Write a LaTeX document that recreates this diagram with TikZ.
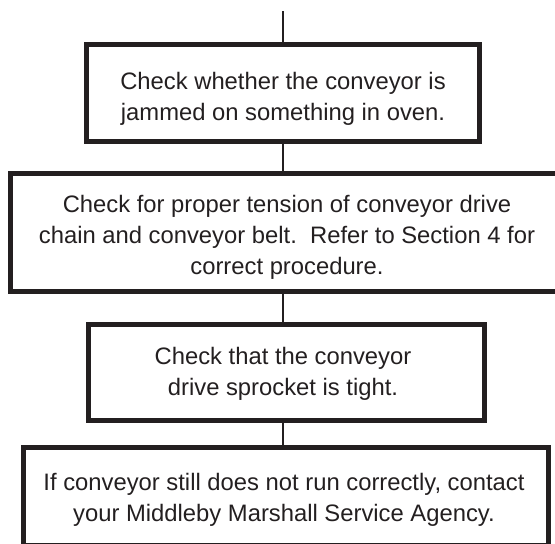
\documentclass[tikz,border=0pt]{standalone}
\usepackage{fontspec}
\setmainfont{Liberation Sans}
\definecolor{ink}{RGB}{35,31,32}
\begin{document}
\begin{tikzpicture}[x=1pt,y=-1pt,
  boxstyle/.style={draw=ink, line width=5pt, inner sep=0pt, rectangle},
  txt/.style={text=ink, align=center, font=\fontsize{23.8}{31}\selectfont, inner sep=0pt},
  conn/.style={draw=ink, line width=2.6pt}]
\useasboundingbox (0,0) rectangle (555,544);
\clip (0,0) rectangle (555,544);
\node[boxstyle, minimum width=393pt, minimum height=97pt] (b1) at (283,93) {};
\node[txt] (t1) at (283,98.5) {Check whether the conveyor is\\jammed on something in oven.};
\node[boxstyle, minimum width=553pt, minimum height=118pt] (b2) at (287,232.5) {};
\node[txt] (t2) at (287,237.5) {Check for proper tension of conveyor drive\\chain and conveyor belt.\ \ Refer to Section 4 for\\correct procedure.};
\node[boxstyle, minimum width=396pt, minimum height=96pt] (b3) at (286.5,372.5) {};
\node[txt] (t3) at (283,374) {Check that the conveyor\\drive sprocket is tight.};
\node[boxstyle, minimum width=525pt, minimum height=98pt] (b4) at (286,496.5) {};
\node[txt] (t4) at (284,500) {If conveyor still does not run correctly, contact\\your Middleby Marshall Service Agency.};
\coordinate (top) at (283,11);
\draw[conn] (top) -- (b1.north);
\draw[conn] (b1.south) -- (b1.south |- b2.north);
\draw[conn] (b1.south |- b2.south) -- (b1.south |- b3.north);
\draw[conn] (b1.south |- b3.south) -- (b1.south |- b4.north);
\end{tikzpicture}
\end{document}
